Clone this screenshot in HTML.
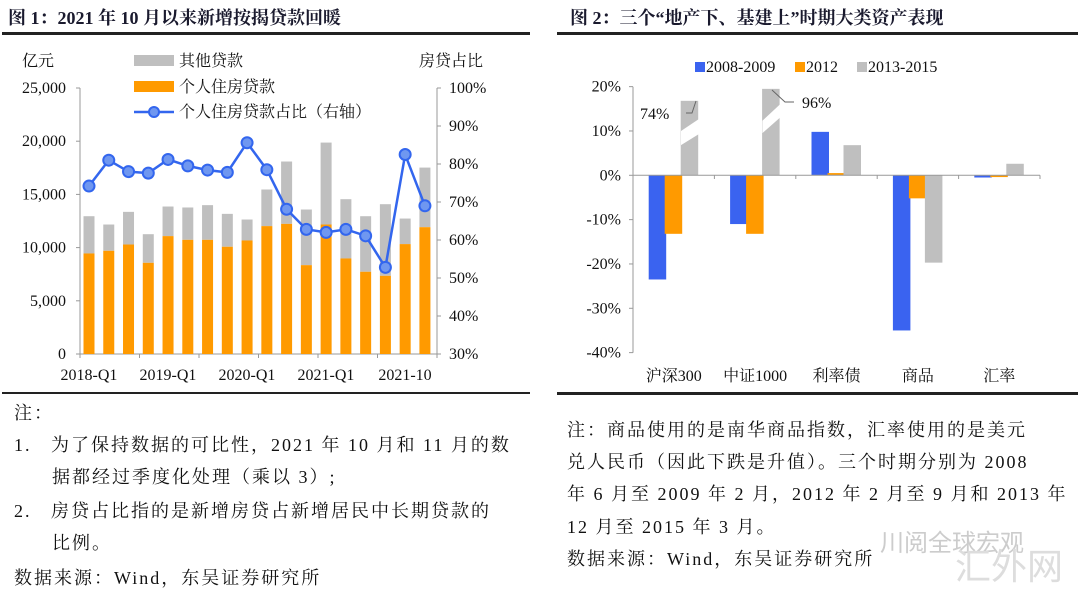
<!DOCTYPE html>
<html><head><meta charset="utf-8"><style>
body{margin:0;background:#fff;width:1080px;height:589px;overflow:hidden;font-family:"Liberation Serif","Noto Serif CJK SC",serif;}
.t{position:absolute;white-space:nowrap;color:#111;font-size:18px;letter-spacing:2px;}
.h{font-weight:bold;font-size:18px;color:#1a1a2e;letter-spacing:0;}
</style></head><body>
<div class="t h" style="left:8px;top:4px">图 1：2021 年 10 月以来新增按揭贷款回暖</div>
<div class="t h" style="left:570px;top:4px">图 2：三个“地产下、基建上”时期大类资产表现</div>
<div style="position:absolute;left:2px;top:32px;width:528px;height:3px;background:#222"></div>
<div style="position:absolute;left:557px;top:32px;width:521px;height:3px;background:#222"></div>
<div style="position:absolute;left:2px;top:392px;width:528px;height:2px;background:#222"></div>
<div style="position:absolute;left:557px;top:392px;width:521px;height:3px;background:#222"></div>

<div class="t" style="left:14px;top:399px">注：</div>
<div class="t" style="left:14px;top:431px">1.&nbsp;&nbsp;&nbsp;为了保持数据的可比性，2021 年 10 月和 11 月的数</div>
<div class="t" style="left:52px;top:463px">据都经过季度化处理（乘以 3）;</div>
<div class="t" style="left:14px;top:497px">2.&nbsp;&nbsp;&nbsp;房贷占比指的是新增房贷占新增居民中长期贷款的</div>
<div class="t" style="left:52px;top:529px">比例。</div>
<div class="t" style="left:14px;top:564px">数据来源：Wind，东吴证券研究所</div>

<div class="t" style="left:567px;top:416px">注：商品使用的是南华商品指数，汇率使用的是美元</div>
<div class="t" style="left:567px;top:448px">兑人民币（因此下跌是升值）。三个时期分别为 2008</div>
<div class="t" style="left:567px;top:480px">年 6 月至 2009 年 2 月，2012 年 2 月至 9 月和 2013 年</div>
<div class="t" style="left:567px;top:513px">12 月至 2015 年 3 月。</div>
<div class="t" style="left:567px;top:545px">数据来源：Wind，东吴证券研究所</div>
<div class="t" style="left:880px;top:523px;color:#ccc;font-size:24px;letter-spacing:0;font-family:'Liberation Sans','Noto Sans CJK SC',sans-serif">川阅全球宏观</div>
<div class="t" style="left:955px;top:538px;color:#ddd;font-size:36px;letter-spacing:0;font-family:'Liberation Sans','Noto Sans CJK SC',sans-serif">汇外网</div>

<svg width="1080" height="589" style="position:absolute;left:0;top:0" font-family="Liberation Serif, Noto Serif CJK SC, serif" font-size="16" fill="#111">
<g id="left"></g><g id="right"></g>
</svg>
<script>
const NS="http://www.w3.org/2000/svg";
function el(p,t,a,txt){const e=document.createElementNS(NS,t);for(const k in a)e.setAttribute(k,a[k]);if(txt!=null)e.textContent=txt;p.appendChild(e);return e;}
const L=document.getElementById('left');
const x0=80,x1=437,yT=88,yB=354;
const yv=v=>yB-v/25000*(yB-yT), yp=p=>yB-(p-30)/70*(yB-yT);
el(L,'line',{x1:x0,y1:yT,x2:x0,y2:yB,stroke:'#999'});
el(L,'line',{x1:x1,y1:yT,x2:x1,y2:yB,stroke:'#999'});
el(L,'line',{x1:x0,y1:yB,x2:x1,y2:yB,stroke:'#999'});
for(let i=0;i<=5;i++){const y=yv(i*5000);el(L,'line',{x1:x0-4,y1:y,x2:x0,y2:y,stroke:'#999'});el(L,'text',{x:x0-14,y:y+5,'text-anchor':'end'},i?(i*5).toString()+',000':'0');}
for(let p=30;p<=100;p+=10){const y=yp(p);el(L,'line',{x1:x1,y1:y,x2:x1+4,y2:y,stroke:'#999'});el(L,'text',{x:x1+12,y:y+5},p+'%');}
const tot=[12950,12170,13360,11260,13860,13770,13990,13170,12640,15460,18090,13580,19870,14550,12950,14080,12730,17520];
const org=[9450,9700,10290,8570,11080,10730,10730,10080,10670,12020,12230,8350,12170,8980,7730,7350,10330,11920];
const pct=[74.2,81,78,77.6,81.2,79.5,78.4,77.8,85.6,78.5,68.1,62.8,62,62.8,61.1,52.8,82.5,69];
const cx=i=>89+i*19.76;
for(let i=0;i<18;i++){el(L,'rect',{x:cx(i)-5.5,y:yv(tot[i]),width:11,height:yv(org[i])-yv(tot[i]),fill:'#bfbfbf'});el(L,'rect',{x:cx(i)-5.5,y:yv(org[i]),width:11,height:yB-yv(org[i]),fill:'#ff9a00'});}
for(let i=0;i<=6;i++){const x=x0+i*59.5;el(L,'line',{x1:x,y1:yB,x2:x,y2:yB+4,stroke:'#999'});}
[['2018-Q1',89],['2019-Q1',168],['2020-Q1',247],['2021-Q1',326],['2021-10',405]].forEach(([t,x])=>el(L,'text',{x:x,y:380,'text-anchor':'middle'},t));
el(L,'polyline',{points:pct.map((p,i)=>cx(i)+','+yp(p)).join(' '),fill:'none',stroke:'#3366ee','stroke-width':2.5});
pct.forEach((p,i)=>el(L,'circle',{cx:cx(i),cy:yp(p),r:5.5,fill:'#6f97f0',stroke:'#3366ee','stroke-width':2}));
el(L,'text',{x:22,y:66},'亿元');el(L,'text',{x:419,y:66},'房贷占比');
el(L,'rect',{x:134,y:55,width:40,height:11,fill:'#bfbfbf'});el(L,'text',{x:179,y:66},'其他贷款');
el(L,'rect',{x:134,y:81,width:40,height:11,fill:'#ff9a00'});el(L,'text',{x:179,y:92},'个人住房贷款');
el(L,'line',{x1:134,y1:112,x2:174,y2:112,stroke:'#3366ee','stroke-width':2.5});el(L,'circle',{cx:154,cy:112,r:5,fill:'#6f97f0',stroke:'#3366ee','stroke-width':2});el(L,'text',{x:179,y:117},'个人住房贷款占比（右轴）');

const R=document.getElementById('right');
const a0=633,a1=1040,rT=86.7,rB=352.7;
const ry=v=>175.3-v/10*44.33;
el(R,'line',{x1:a0,y1:rT,x2:a0,y2:rB,stroke:'#999'});
for(let v=20;v>=-40;v-=10){const y=ry(v);el(R,'line',{x1:a0-4,y1:y,x2:a0,y2:y,stroke:'#999'});el(R,'text',{x:a0-12,y:y+5,'text-anchor':'end'},v+'%');}
const cols=['#3a63f0','#ff9a00','#bfbfbf'];
const data=[[-23.5,-13.2,16.8],[-11,-13.2,19.5],[9.8,0.5,6.8],[-35,-5.2,-19.7],[-0.5,-0.4,2.6]];
const cats=['沪深300','中证1000','利率债','商品','汇率'];
for(let c=0;c<5;c++){const gc=a0+40.7+c*81.4;
 for(let s=0;s<3;s++){const v=data[c][s];const x=gc-25+s*16;const y=Math.min(ry(v),ry(0));el(R,'rect',{x:x,y:y,width:17.5,height:Math.abs(ry(v)-ry(0)),fill:cols[s]});}
 el(R,'text',{x:gc,y:381,'text-anchor':'middle'},cats[c]);
 el(R,'line',{x1:a0+(c+1)*81.4,y1:175.3,x2:a0+(c+1)*81.4,y2:179,stroke:'#999'});
}
el(R,'line',{x1:a0,y1:175.3,x2:a1,y2:175.3,stroke:'#999'});
[[682,0],[763.4,1]].forEach(([x,k])=>{const b=k?[ry(9.5),ry(13.5),ry(12.3),ry(16.5)]:[ry(6.8),ry(9.6),ry(10),ry(13)];
 el(R,'polygon',{points:`${x-1},${b[0]} ${x+19},${b[1]} ${x+19},${b[3]} ${x-1},${b[2]}`,fill:'#fff'});});
el(R,'polyline',{points:'696,101 692,113 686,113',fill:'none',stroke:'#666'});
el(R,'text',{x:640,y:119},'74%');
el(R,'polyline',{points:'772,90 785,102 794,102',fill:'none',stroke:'#666'});
el(R,'text',{x:802,y:108},'96%');
el(R,'rect',{x:695,y:62,width:10,height:10,fill:cols[0]});el(R,'text',{x:706,y:72},'2008-2009');
el(R,'rect',{x:795,y:62,width:10,height:10,fill:cols[1]});el(R,'text',{x:806,y:72},'2012');
el(R,'rect',{x:857,y:62,width:10,height:10,fill:cols[2]});el(R,'text',{x:868,y:72},'2013-2015');
</script>
</body></html>
